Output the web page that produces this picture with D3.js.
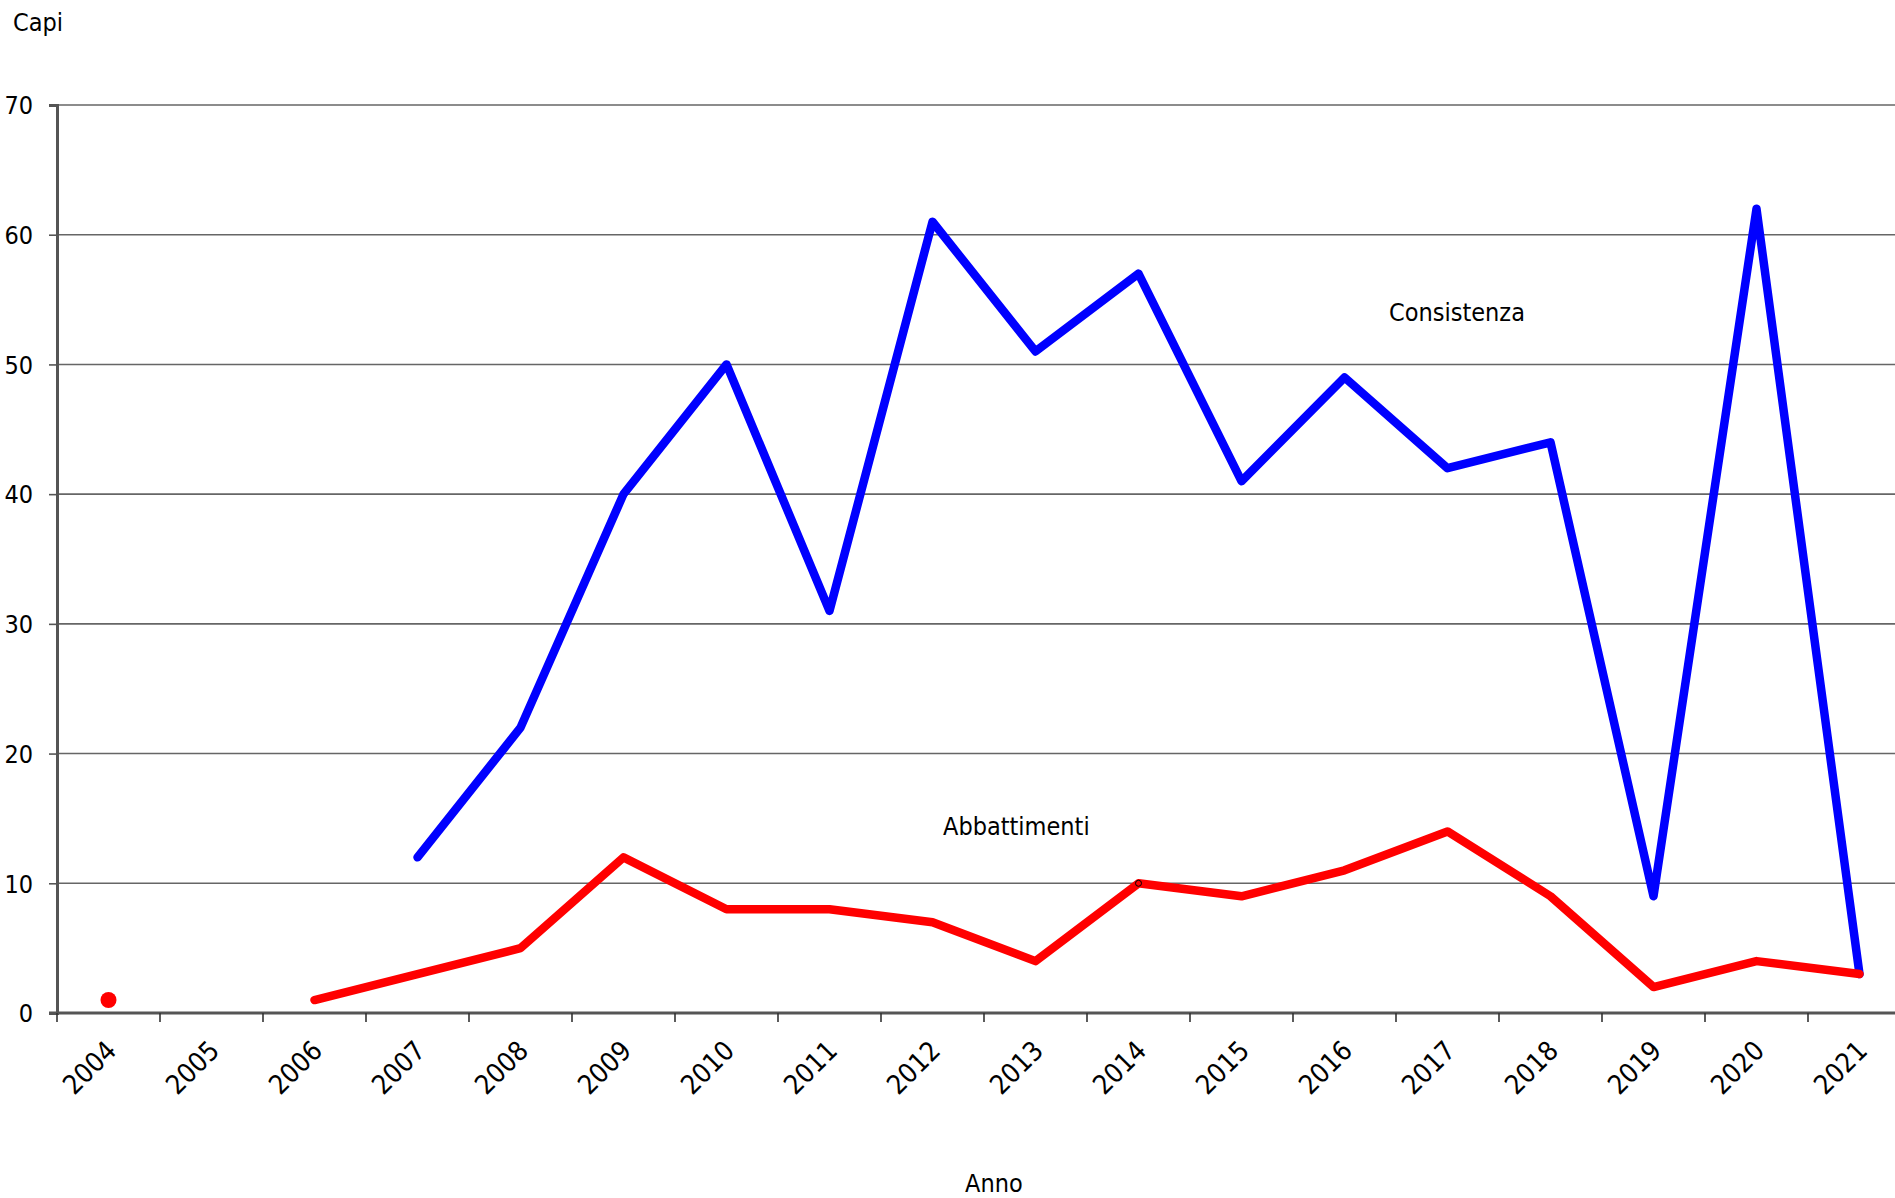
<!DOCTYPE html>
<html>
<head>
<meta charset="utf-8">
<script src="https://cdn.jsdelivr.net/npm/d3@7"></script>
<style>
  body { margin: 0; background: #fff; }
  text { font-family: "DejaVu Sans Condensed", "DejaVu Sans", sans-serif; font-stretch: condensed; fill: #000; }
</style>
</head>
<body>
<div id="frame"></div>
<script>
// data
const years = ["2004", "2005", "2006", "2007", "2008", "2009", "2010", "2011", "2012",
               "2013", "2014", "2015", "2016", "2017", "2018", "2019", "2020", "2021"];
const consistenza = [null, null, null, 12, 22, 40, 50, 31, 61, 51, 57, 41, 49, 42, 44, 9, 62, 3];
const abbattimenti = [1, null, 1, 3, 5, 12, 8, 8, 7, 4, 10, 9, 11, 14, 9, 2, 4, 3];
const yTicks = [0, 10, 20, 30, 40, 50, 60, 70];

const frameWidth = 1895;
const frameHeight = 1198;
const marginLeft = 57;
const marginTop = 105;
const bandW = 103;
const plotH = 908;
const fontSize = "25px";

let svg = d3.select("#frame")
    .append("svg")
    .attr("width", frameWidth)
    .attr("height", frameHeight);

let x = d3.scaleBand()
    .domain(years)
    .range([marginLeft, marginLeft + bandW * years.length]);

let y = d3.scaleLinear()
    .domain([0, 70])
    .range([marginTop + plotH, marginTop]);

// gridlines
svg.append("g")
    .selectAll("line")
    .data(yTicks.filter(d => d > 0))
    .enter()
    .append("line")
    .attr("x1", marginLeft)
    .attr("x2", frameWidth)
    .attr("y1", d => y(d))
    .attr("y2", d => y(d))
    .style("stroke", "#666")
    .style("stroke-width", 1.6);

// y axis
let yAxis = svg.append("g")
    .attr("transform", "translate(" + marginLeft + ",0)")
    .call(d3.axisLeft(y).tickValues(yTicks).tickSize(8).tickPadding(16).tickFormat(d3.format("d")));
yAxis.select(".domain").style("stroke", "#555").style("stroke-width", 3);
yAxis.selectAll(".tick line").style("stroke", "#555").style("stroke-width", 1.6);
yAxis.selectAll(".tick text").style("font-size", fontSize).attr("dy", "0.35em");

// x axis with ticks between categories
let xAxis = svg.append("g")
    .attr("transform", "translate(0," + y(0) + ")");
xAxis.append("line")
    .attr("x1", marginLeft - 8)
    .attr("x2", frameWidth)
    .style("stroke", "#555")
    .style("stroke-width", 3);
xAxis.selectAll(".sep")
    .data(years)
    .enter()
    .append("line")
    .attr("class", "sep")
    .attr("x1", d => x(d))
    .attr("x2", d => x(d))
    .attr("y1", 0)
    .attr("y2", 9)
    .style("stroke", "#333")
    .style("stroke-width", 1.6);
xAxis.selectAll(".lab")
    .data(years)
    .enter()
    .append("text")
    .attr("class", "lab")
    .attr("transform", d => "translate(" + (x(d) + x.bandwidth() / 2 - 4) + ",26) rotate(-45)")
    .attr("text-anchor", "end")
    .attr("dy", "0.7em")
    .style("font-size", "27px")
    .text(d => d);

// lines
let cx = (d, i) => x(years[i]) + x.bandwidth() / 2;

let lineGen = d3.line()
    .defined(d => d != null)
    .x(cx)
    .y(d => y(d));

svg.append("path")
    .datum(consistenza)
    .attr("d", lineGen)
    .style("fill", "none")
    .style("stroke", "#0000ff")
    .style("stroke-width", 8.5)
    .style("stroke-linecap", "round")
    .style("stroke-linejoin", "round");

svg.append("path")
    .datum(abbattimenti)
    .attr("d", lineGen)
    .style("fill", "none")
    .style("stroke", "#ff0000")
    .style("stroke-width", 8.5)
    .style("stroke-linecap", "round")
    .style("stroke-linejoin", "round");

// isolated red point (2004)
svg.append("circle")
    .attr("cx", cx(abbattimenti[0], 0))
    .attr("cy", y(abbattimenti[0]))
    .attr("r", 8)
    .style("fill", "#ff0000");

// small marker left on 2014
svg.append("circle")
    .attr("cx", cx(abbattimenti[10], 10))
    .attr("cy", y(abbattimenti[10]))
    .attr("r", 3)
    .style("fill", "none")
    .style("stroke", "#000")
    .style("stroke-width", 1);

// labels
svg.append("text")
    .attr("x", 13)
    .attr("y", 31)
    .style("font-size", fontSize)
    .text("Capi");

svg.append("text")
    .attr("x", 965)
    .attr("y", 1192)
    .style("font-size", fontSize)
    .text("Anno");

svg.append("text")
    .attr("x", 1389)
    .attr("y", 321)
    .style("font-size", fontSize)
    .text("Consistenza");

svg.append("text")
    .attr("x", 943)
    .attr("y", 835)
    .style("font-size", fontSize)
    .text("Abbattimenti");
</script>
</body>
</html>
